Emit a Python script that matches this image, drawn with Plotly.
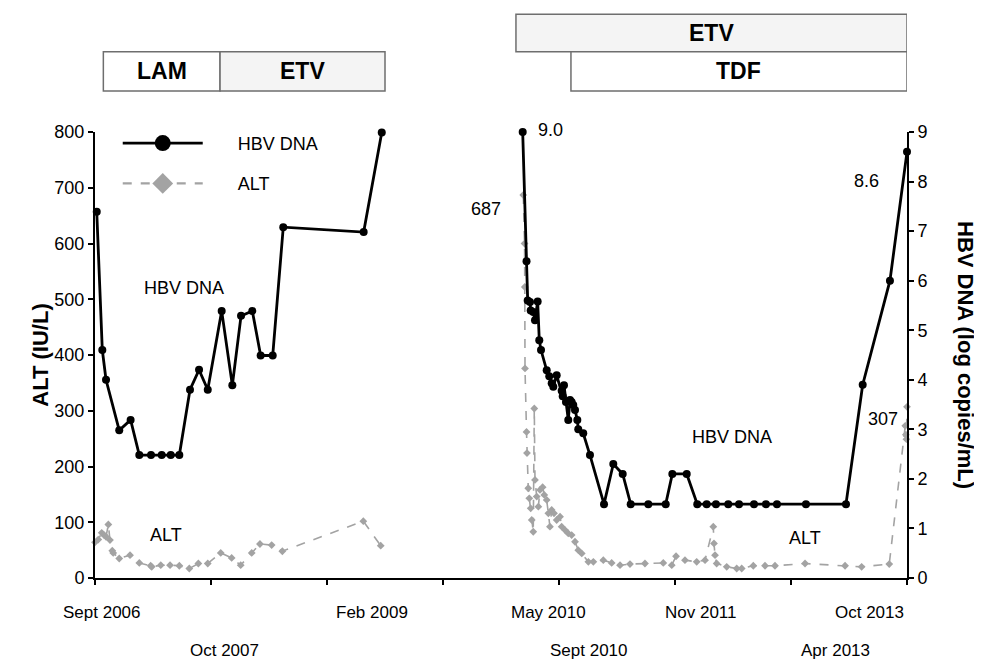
import plotly.graph_objects as go

# ---- Data (x = position along the broken time axis, one unit per tick) ----
hbv_left_x = [0.015, 0.063, 0.095, 0.209, 0.307, 0.382, 0.483, 0.575, 0.653, 0.727, 0.819,
              0.897, 0.972, 1.092, 1.184, 1.259, 1.356, 1.428, 1.532, 1.623, 2.316, 2.472]
hbv_left = [7.39, 4.6, 4.0, 2.98, 3.19, 2.48, 2.48, 2.48, 2.48, 2.48, 3.8,
            4.2, 3.8, 5.39, 3.89, 5.29, 5.39, 4.49, 4.49, 7.08, 6.98, 8.99]

hbv_right_x = [3.687, 3.720, 3.730, 3.750, 3.756, 3.778, 3.793, 3.816, 3.830, 3.845, 3.894,
               3.916, 3.937, 3.951, 3.980, 4.023, 4.032, 4.043, 4.060, 4.080, 4.095, 4.109,
               4.123, 4.138, 4.158, 4.166, 4.209, 4.267, 4.388, 4.468, 4.549, 4.618, 4.770,
               4.920, 4.977, 5.101, 5.192, 5.273, 5.353, 5.459, 5.552, 5.681, 5.784, 5.879,
               6.129, 6.474, 6.618, 6.853, 7.0]
hbv_right = [9.0, 6.39, 5.6, 5.57, 5.4, 5.37, 5.2, 5.58, 4.8, 4.6, 4.19,
             4.07, 3.93, 3.86, 4.09, 3.78, 3.67, 3.89, 3.55, 3.19, 3.59, 3.55,
             3.49, 3.39, 3.19, 3.0, 2.92, 2.48, 1.49, 2.3, 2.1, 1.49, 1.49,
             1.49, 2.1, 2.1, 1.49, 1.49, 1.49, 1.49, 1.49, 1.49, 1.49, 1.49,
             1.49, 1.49, 3.9, 6.0, 8.6]

alt_left_x = [0.0, 0.028, 0.058, 0.078, 0.095, 0.115, 0.129, 0.149, 0.157, 0.209, 0.302,
              0.382, 0.48, 0.489, 0.567, 0.647, 0.727, 0.813, 0.891, 0.972, 1.084, 1.178,
              1.256, 1.351, 1.422, 1.523, 1.615, 2.313, 2.463]
alt_left = [64, 69, 81, 77, 74, 96, 68, 49, 45, 35, 41,
            27, 22, 20, 23, 23, 22, 17, 26, 26, 45, 36,
            23, 45, 61, 59, 48, 102, 58]

alt_right_x = [3.692, 3.703, 3.705, 3.707, 3.720, 3.724, 3.735, 3.744, 3.756, 3.765, 3.778,
               3.787, 3.793, 3.808, 3.822, 3.836, 3.859, 3.873, 3.894, 3.908, 3.922, 3.937,
               3.957, 3.980, 4.009, 4.023, 4.052, 4.080, 4.109, 4.138, 4.166, 4.196, 4.253,
               4.296, 4.382, 4.454, 4.526, 4.612, 4.741, 4.899, 4.972, 5.009, 5.086, 5.187,
               5.259, 5.330, 5.336, 5.345, 5.359, 5.446, 5.532, 5.575, 5.675, 5.776, 5.862,
               6.121, 6.466, 6.609, 6.847, 6.985, 6.99, 6.995, 7.0]
alt_right = [687, 600, 522, 376, 262, 224, 161, 143, 125, 104, 83,
             304, 176, 146, 128, 158, 163, 149, 140, 116, 92, 122,
             116, 104, 110, 92, 86, 80, 77, 65, 50, 44, 29,
             29, 32, 27, 23, 25, 26, 27, 23, 39, 32, 29,
             32, 92, 62, 41, 26, 20, 17, 17, 22, 22, 22,
             26, 22, 20, 25, 273, 257, 249, 307]

# date labels along the axis
date_labels = ["Sept 2006", "Oct 2007", "Feb 2009", "May 2010", "Sept 2010", "Nov 2011", "Apr 2013", "Oct 2013"]
date_pos = [0.06, 1.12, 2.39, 3.91, 4.26, 5.22, 6.38, 6.68]
date_row = [0, 1, 0, 0, 1, 0, 1, 0]

# treatment periods
treat_names = ["LAM", "ETV", "ETV", "TDF"]
treat_start = [0.072, 1.078, 3.629, 4.103]
treat_end = [1.078, 2.5, 7.0, 7.0]
treat_row = [0, 0, 1, 0]
treat_fill = ["#ffffff", "#f4f4f4", "#f4f4f4", "#ffffff"]

x_ticks = [0, 1, 2, 3, 4, 5, 6, 7]

FONT = "Arial, Liberation Sans, sans-serif"
GRAY = "#a3a3a3"
PAD = "\u00a0" * 6

fig = go.Figure()

fig.add_trace(go.Scatter(
    x=hbv_left_x + [None] + hbv_right_x,
    y=hbv_left + [None] + hbv_right,
    name="HBV DNA", yaxis="y2", mode="lines+markers",
    line=dict(color="black", width=2.8),
    marker=dict(color="black", size=8, symbol="circle"),
    cliponaxis=False, showlegend=False,
))
fig.add_trace(go.Scatter(
    x=alt_left_x + [None] + alt_right_x,
    y=alt_left + [None] + alt_right,
    name="ALT", yaxis="y", mode="lines+markers",
    line=dict(color=GRAY, width=1.6, dash="dash"),
    marker=dict(color=GRAY, size=6, symbol="diamond"),
    cliponaxis=False, showlegend=False,
))
# legend entries (styled like the reference key; no data of their own)
fig.add_trace(go.Scatter(
    x=[None], y=[None], name=PAD + "HBV DNA", mode="lines+markers", yaxis="y2",
    line=dict(color="black", width=2.8),
    marker=dict(color="black", size=16, symbol="circle"), legendgroup="a",
))
fig.add_trace(go.Scatter(
    x=[None], y=[None], name=PAD + "ALT", mode="lines+markers",
    line=dict(color=GRAY, width=2.2, dash="dash"),
    marker=dict(color=GRAY, size=16, symbol="diamond"), legendgroup="b",
))

axis_common = dict(showgrid=False, zeroline=False, showline=True, linecolor="black",
                   linewidth=2, ticks="outside", ticklen=5, tickwidth=2, tickcolor="black",
                   tickfont=dict(family=FONT, size=18, color="black"))

shapes = []
annotations = []

row_y = [(1.092, 1.180), (1.180, 1.264)]
for n, s, e, r, fc in zip(treat_names, treat_start, treat_end, treat_row, treat_fill):
    y0, y1 = row_y[r]
    shapes.append(dict(type="rect", xref="x", yref="paper", x0=s, x1=e, y0=y0, y1=y1,
                       line=dict(color="#6e6e6e", width=1.5), fillcolor=fc, layer="above"))
    annotations.append(dict(x=(s + e) / 2, y=(y0 + y1) / 2, xref="x", yref="paper",
                            text="<b>%s</b>" % n, showarrow=False,
                            font=dict(family=FONT, size=23, color="black"),
                            xanchor="center", yanchor="middle"))

row_off = [-0.078, -0.163]
for t, p, r in zip(date_labels, date_pos, date_row):
    annotations.append(dict(x=p, y=row_off[r], xref="x", yref="paper", text=t,
                            showarrow=False, font=dict(family=FONT, size=17, color="black"),
                            xanchor="center", yanchor="middle"))

lab_font = dict(family=FONT, size=18, color="black")
annotations += [
    dict(x=0.763, y=520, xref="x", yref="y", text="HBV DNA", showarrow=False, font=lab_font),
    dict(x=0.616, y=77, xref="x", yref="y", text="ALT", showarrow=False, font=lab_font),
    dict(x=5.49, y=253, xref="x", yref="y", text="HBV DNA", showarrow=False, font=lab_font),
    dict(x=6.12, y=72, xref="x", yref="y", text="ALT", showarrow=False, font=lab_font),
]
annotations += [
    dict(x=hbv_right_x[0], y=hbv_right[0], xref="x", yref="y2", text="%.1f" % hbv_right[0],
         showarrow=False, font=lab_font, xshift=28, yshift=2),
    dict(x=alt_right_x[0], y=alt_right[0], xref="x", yref="y", text="%d" % alt_right[0],
         showarrow=False, font=lab_font, xshift=-37, yshift=-14),
    dict(x=hbv_right_x[-1], y=hbv_right[-1], xref="x", yref="y2", text="%.1f" % hbv_right[-1],
         showarrow=False, font=lab_font, xshift=-41, yshift=-29),
    dict(x=alt_right_x[-1], y=max(alt_right[-4:]), xref="x", yref="y", text="%d" % max(alt_right[-4:]),
         showarrow=False, font=lab_font, xshift=-24, yshift=-12),
]
annotations.append(dict(x=1.0, y=0.5, xref="paper", yref="paper", xshift=59,
                        text="<b>HBV DNA (log copies/mL)</b>", textangle=90, showarrow=False,
                        font=dict(family=FONT, size=22, color="black"),
                        xanchor="center", yanchor="middle"))

fig.update_layout(
    width=974, height=652,
    margin=dict(l=87, r=75, t=124, b=82),
    paper_bgcolor="white", plot_bgcolor="white",
    font=dict(family=FONT, color="black"),
    xaxis=dict(range=[0, 7], tickvals=x_ticks, showticklabels=False, **axis_common),
    yaxis=dict(range=[0, 800], dtick=100,
               title=dict(text="<b>ALT (IU/L)</b>", font=dict(family=FONT, size=22, color="black"),
                          standoff=0),
               **axis_common),
    yaxis2=dict(range=[0, 9], dtick=1, side="right", overlaying="y", **axis_common),
    showlegend=True,
    legend=dict(x=0.028, y=1.016, xanchor="left", yanchor="top", bgcolor="rgba(0,0,0,0)",
                font=dict(family=FONT, size=18, color="black"),
                itemsizing="trace", itemwidth=80, tracegroupgap=14),
    shapes=shapes,
    annotations=annotations,
)

fig.write_html("out.html")
